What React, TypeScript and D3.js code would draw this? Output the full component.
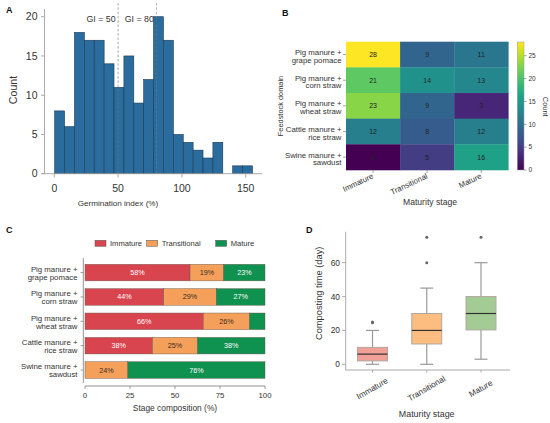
import React from 'react';
import * as d3 from 'd3';

// ---------- Data ----------
const histCounts = [8, 6, 18, 17, 17, 14, 11, 15, 9, 12, 20, 17, 5, 4, 3, 2, 4, 0, 1, 1];
const histStart = 0.3;
const histBinWidth = 7.75;
const giThresholds = [50, 80];
const histXTicks = [0, 50, 100, 150];
const histYTicks = [0, 5, 10, 15, 20];

const domainLine1 = ['Pig manure +', 'Pig manure +', 'Pig manure +', 'Cattle manure +', 'Swine manure +'];
const domainLine2 = ['grape pomace', 'corn straw', 'wheat straw', 'rice straw', 'sawdust'];
const stages = ['Immature', 'Transitional', 'Mature'];
const immatureCounts = [28, 21, 23, 12, 0];
const transitionalCounts = [9, 14, 9, 8, 5];
const matureCounts = [11, 13, 3, 12, 16];
const colorbarTicks = [0, 5, 10, 15, 20, 25];
const compTicks = [0, 25, 50, 75, 100];

const boxMin = [0, 0, 3];
const boxQ1 = [2, 12, 20.3];
const boxMedian = [6, 20, 30];
const boxQ3 = [10, 30, 40];
const boxMax = [20, 45, 60];
const boxOutliers = [[24.5, 25], [60, 75], [75]];
const boxYTicks = [0, 20, 40, 60];

const stageColors = ['#d9454f', '#f5a05a', '#0f9150'];
const boxColors = ['#f0a096', '#fdbd80', '#a3cc95'];

const FONT = 'Liberation Sans, Arial, sans-serif';
const AXIS = '#a0a0a0';
const TXT = '#333';

function PanelA() {
  const x = d3.scaleLinear().domain([0, 150]).range([54.3, 245.7]);
  const y = d3.scaleLinear().domain([0, 20]).range([173.7, 16.7]);
  return (
    <g>
      <text x={6} y={13} fontSize={9} fontWeight="bold" fill="#111">A</text>
      {histCounts.map((c, i) =>
        c > 0 ? (
          <rect key={i} x={x(histStart + i * histBinWidth)} y={y(c)}
            width={x(histStart + (i + 1) * histBinWidth) - x(histStart + i * histBinWidth)}
            height={y(0) - y(c)} fill="#2b6c9e" stroke="#1c3a55" strokeWidth={0.6} />
        ) : null
      )}
      {giThresholds.map((g) => (
        <line key={g} x1={x(g)} x2={x(g)} y1={3} y2={173.7} stroke="#777" strokeWidth={0.7} strokeDasharray="2.5,1.8" opacity={0.9} />
      ))}
      {giThresholds.map((g) => (
        <text key={'t' + g} x={x(g) - 2.5} y={22} fontSize={8.8} textAnchor="end" fill={TXT}>GI = {g}</text>
      ))}
      <line x1={44.5} x2={44.5} y1={9} y2={173.7} stroke={AXIS} strokeWidth={0.9} />
      <line x1={42} x2={262} y1={173.7} y2={173.7} stroke={AXIS} strokeWidth={0.9} />
      {histYTicks.map((t) => (
        <g key={t}>
          <line x1={41} x2={44.5} y1={y(t)} y2={y(t)} stroke={AXIS} strokeWidth={0.9} />
          <text x={37.5} y={y(t) + 3.7} fontSize={10.5} textAnchor="end" fill={TXT}>{t}</text>
        </g>
      ))}
      {histXTicks.map((t) => (
        <g key={t}>
          <line x1={x(t)} x2={x(t)} y1={173.7} y2={177.5} stroke={AXIS} strokeWidth={0.9} />
          <text x={x(t)} y={192} fontSize={10.5} textAnchor="middle" fill={TXT}>{t}</text>
        </g>
      ))}
      <text x={118} y={206} fontSize={8.1} textAnchor="middle" fill={TXT}>Germination index (%)</text>
      <text transform="translate(16.5,90) rotate(-90)" fontSize={10.6} textAnchor="middle" fill={TXT}>Count</text>
    </g>
  );
}

function PanelB() {
  const rows = domainLine1.map((_, i) => String(i));
  const x = d3.scaleBand().domain(stages).range([346, 508.3]);
  const y = d3.scaleBand().domain(rows).range([41.7, 170]);
  const color = d3.scaleSequential(d3.interpolateViridis).domain([0, 28]);
  const cb = d3.scaleLinear().domain([0, 28]).range([170, 42]);
  const series = [immatureCounts, transitionalCounts, matureCounts];
  const stops = d3.range(0, 1.0001, 0.05);
  return (
    <g>
      <defs>
        <linearGradient id="viridisGrad" x1="0" y1="1" x2="0" y2="0">
          {stops.map((s) => (
            <stop key={s} offset={s} stopColor={d3.interpolateViridis(s)} />
          ))}
        </linearGradient>
      </defs>
      <text x={282} y={16} fontSize={9} fontWeight="bold" fill="#111">B</text>
      {rows.map((r, i) =>
        stages.map((s, j) => (
          <g key={r + s}>
            <rect x={x(s)} y={y(r)} width={x.bandwidth() + 0.3} height={y.bandwidth() + 0.3} fill={color(series[j][i])} />
            <text x={x(s)! + x.bandwidth() / 2} y={y(r)! + y.bandwidth() / 2 + 2.5} fontSize={7} textAnchor="middle" fill="#222">{String(series[j][i])}</text>
          </g>
        ))
      )}
      {rows.map((r, i) => (
        <g key={'l' + r}>
          <line x1={343} x2={346} y1={y(r)! + y.bandwidth() / 2} y2={y(r)! + y.bandwidth() / 2} stroke="#666" strokeWidth={0.6} />
          <text x={341.5} y={y(r)! + y.bandwidth() / 2 + 0.5} fontSize={7.8} textAnchor="end" fill={TXT}>{domainLine1[i]}</text>
          <text x={341.5} y={y(r)! + y.bandwidth() / 2 + 8.2} fontSize={7.8} textAnchor="end" fill={TXT}>{domainLine2[i]}</text>
        </g>
      ))}
      {stages.map((s) => {
        const cx = x(s)! + x.bandwidth() / 2;
        return (
          <g key={'c' + s}>
            <line x1={cx} x2={cx} y1={170} y2={173} stroke="#666" strokeWidth={0.6} />
            <text transform={`translate(${cx + 1},${178}) rotate(-25)`} fontSize={7.8} textAnchor="end" fill={TXT}>{s}</text>
          </g>
        );
      })}
      <text x={430} y={205} fontSize={8.6} textAnchor="middle" fill={TXT}>Maturity stage</text>
      <text transform="translate(283,106) rotate(-90)" fontSize={7.4} textAnchor="middle" fill={TXT}>Feedstock domain</text>
      <rect x={517.3} y={42} width={6.7} height={128} fill="url(#viridisGrad)" stroke="#999" strokeWidth={0.5} />
      {colorbarTicks.map((t) => (
        <g key={t}>
          <line x1={524} x2={526.5} y1={cb(t)} y2={cb(t)} stroke="#666" strokeWidth={0.6} />
          <text x={528.5} y={cb(t) + 2.3} fontSize={6.5} fill={TXT}>{t}</text>
        </g>
      ))}
      <text transform="translate(542.5,106.7) rotate(90)" fontSize={7.4} textAnchor="middle" fill={TXT}>Count</text>
    </g>
  );
}

function PanelC() {
  const rows = domainLine1.map((_, i) => String(i));
  const x = d3.scaleLinear().domain([0, 100]).range([85, 265]);
  const y = d3.scaleBand().domain(rows).range([256.5, 386.1]).padding(0.32);
  const table = rows.map((r, i) => {
    const tot = immatureCounts[i] + transitionalCounts[i] + matureCounts[i];
    return {
      row: r,
      Immature: (immatureCounts[i] / tot) * 100,
      Transitional: (transitionalCounts[i] / tot) * 100,
      Mature: (matureCounts[i] / tot) * 100,
    };
  });
  const stacked = d3.stack<any>().keys(stages)(table);
  const legendX = [95, 146.7, 215.7];
  return (
    <g>
      <text x={6} y={233} fontSize={9} fontWeight="bold" fill="#111">C</text>
      {stages.map((s, k) => (
        <g key={'lg' + s}>
          <rect x={legendX[k]} y={240.3} width={11} height={6} fill={stageColors[k]} stroke="#555" strokeWidth={0.5} />
          <text x={legendX[k] + 15} y={245.8} fontSize={7.6} fill={TXT}>{s}</text>
        </g>
      ))}
      {stacked.map((layer, k) =>
        layer.map((d, i) => {
          const w = x(d[1]) - x(d[0]);
          if (w <= 0) return null;
          const pct = d[1] - d[0];
          return (
            <g key={k + '-' + i}>
              <rect x={x(d[0])} y={y(rows[i])} width={w} height={y.bandwidth()} fill={stageColors[k]} stroke="#6a5a50" strokeWidth={0.45} />
              {pct >= 10 ? (
                <text x={(x(d[0]) + x(d[1])) / 2} y={y(rows[i])! + y.bandwidth() / 2 + 2.5} fontSize={7.2} textAnchor="middle" fill={k === 1 ? '#3a2a1a' : '#fff'}>
                  {Math.round(pct)}%
                </text>
              ) : null}
            </g>
          );
        })
      )}
      <line x1={83.3} x2={83.3} y1={258} y2={383} stroke="#777" strokeWidth={0.8} />
      <line x1={85} x2={265} y1={386} y2={386} stroke="#777" strokeWidth={0.8} />
      {rows.map((r, i) => {
        const cy = y(r)! + y.bandwidth() / 2;
        return (
          <g key={'rl' + r}>
            <line x1={80.5} x2={83.3} y1={cy} y2={cy} stroke="#777" strokeWidth={0.7} />
            <text x={77.5} y={cy - 0.8} fontSize={7.8} textAnchor="end" fill={TXT}>{domainLine1[i]}</text>
            <text x={77.5} y={cy + 7.3} fontSize={7.8} textAnchor="end" fill={TXT}>{domainLine2[i]}</text>
          </g>
        );
      })}
      {compTicks.map((t) => (
        <g key={t}>
          <line x1={x(t)} x2={x(t)} y1={386} y2={389} stroke="#777" strokeWidth={0.7} />
          <text x={x(t)} y={397.5} fontSize={7.8} textAnchor="middle" fill={TXT}>{t}</text>
        </g>
      ))}
      <text x={175} y={410.5} fontSize={8.4} textAnchor="middle" fill={TXT}>Stage composition (%)</text>
    </g>
  );
}

function PanelD() {
  const x = d3.scalePoint().domain(stages).range([372.5, 481]);
  const y = d3.scaleLinear().domain([0, 60]).range([364.3, 262.7]);
  const bw = 30;
  const cap = 13;
  const grey = '#999';
  return (
    <g>
      <text x={306} y={233} fontSize={9} fontWeight="bold" fill="#111">D</text>
      <line x1={345.7} x2={345.7} y1={231.7} y2={370} stroke={AXIS} strokeWidth={0.9} />
      <line x1={345.7} x2={510} y1={370} y2={370} stroke={AXIS} strokeWidth={0.9} />
      {boxYTicks.map((t) => (
        <g key={t}>
          <line x1={342} x2={345.7} y1={y(t)} y2={y(t)} stroke={AXIS} strokeWidth={0.9} />
          <text x={340} y={y(t) + 3} fontSize={8.4} textAnchor="end" fill={TXT}>{t}</text>
        </g>
      ))}
      {stages.map((s, i) => {
        const cx = x(s)!;
        return (
          <g key={s}>
            <line x1={cx} x2={cx} y1={y(boxQ3[i])} y2={y(boxMax[i])} stroke={grey} strokeWidth={1.2} />
            <line x1={cx} x2={cx} y1={y(boxQ1[i])} y2={y(boxMin[i])} stroke={grey} strokeWidth={1.2} />
            <line x1={cx - cap / 2} x2={cx + cap / 2} y1={y(boxMax[i])} y2={y(boxMax[i])} stroke={grey} strokeWidth={1.2} />
            <line x1={cx - cap / 2} x2={cx + cap / 2} y1={y(boxMin[i])} y2={y(boxMin[i])} stroke={grey} strokeWidth={1.2} />
            <rect x={cx - bw / 2} y={y(boxQ3[i])} width={bw} height={y(boxQ1[i]) - y(boxQ3[i])} fill={boxColors[i]} stroke="#b0a8a0" strokeWidth={1} />
            <line x1={cx - bw / 2} x2={cx + bw / 2} y1={y(boxMedian[i])} y2={y(boxMedian[i])} stroke="#333" strokeWidth={1.2} />
            {boxOutliers[i].map((o, k) => (
              <circle key={k} cx={cx} cy={y(o)} r={1.5} fill="#666" />
            ))}
            <line x1={cx} x2={cx} y1={370} y2={372.5} stroke={AXIS} strokeWidth={0.9} />
            <text transform={`translate(${cx},${389}) rotate(-30)`} fontSize={8.2} textAnchor="middle" dominantBaseline="middle" fill={TXT}>{s}</text>
          </g>
        );
      })}
      <text x={426.7} y={417} fontSize={8.9} textAnchor="middle" fill={TXT}>Maturity stage</text>
      <text transform="translate(321.5,293.3) rotate(-90)" fontSize={9.3} textAnchor="middle" fill={TXT}>Composting time (day)</text>
    </g>
  );
}

export default function App() {
  return (
    <svg width={550} height={423} viewBox="0 0 550 423" style={{ position: 'absolute', left: 0, top: 0, background: '#fff' }} fontFamily={FONT}>
      <rect x={0} y={0} width={550} height={423} fill="#fff" />
      <PanelA />
      <PanelB />
      <PanelC />
      <PanelD />
    </svg>
  );
}
